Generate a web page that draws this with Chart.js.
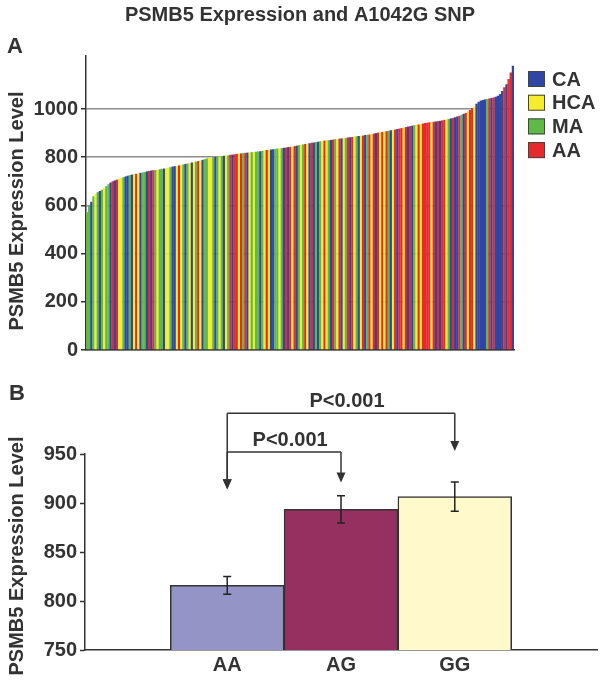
<!DOCTYPE html>
<html><head><meta charset="utf-8">
<script src="https://cdn.jsdelivr.net/npm/chart.js@4"></script>
<style>
html,body{margin:0;padding:0;background:#fff;}
#wrap{position:relative;width:601px;height:686px;overflow:hidden;}
#ca{position:absolute;left:0;top:0;}
#cb{position:absolute;left:0;top:365px;}
</style></head><body>
<div id="wrap"><canvas id="ca" width="601" height="365"></canvas><canvas id="cb" width="601" height="321"></canvas></div>
<script>
// ---------- text ----------
const titleText = 'PSMB5 Expression and A1042G SNP';
const yAxisTitle = 'PSMB5 Expression Level';
const panelLabels = ['A', 'B'];

// ---------- panel A data ----------
const groupKeys = ['C', 'H', 'M', 'A'];
const groupNames = ['CA', 'HCA', 'MA', 'AA'];
const groupColors = ['#2f47a3', '#f4ec2c', '#5fb947', '#e42a2c'];
const yTicksA = [0, 200, 400, 600, 800, 1000];

const sampleGroups = [
  'M','M','C','M','H','M','C','M','H','M',
  'M','C','A','C','A','H','H','M','C','C',
  'M','C','H','A','H','C','M','M','C','A',
  'C','A','M','H','M','M','C','H','H','M',
  'C','C','H','A','H','M','C','M','H','C',
  'H','M','A','H','C','M','M','H','H','M',
  'C','M','H','M','C','H','M','A','C','A',
  'A','H','A','M','A','C','H','M','H','M',
  'M','C','M','H','A','H','C','C','M','M',
  'H','M','C','A','C','A','H','A','C','M',
  'H','M','A','H','C','A','C','M','C','M',
  'H','A','H','M','C','A','M','H','A','C',
  'H','M','A','C','A','H','M','C','H','A',
  'C','M','A','H','A','C','A','H','A','H',
  'A','M','C','H','A','C','A','A','H','A',
  'C','A','C','M','H','A','H','A','A','A',
  'A','H','A','C','A','C','A','A','H','M',
  'C','A','C','C','A','M','C','A','H','A',
  'A','H','C','C','C','C','C','M','A','C',
  'A','C','C','C','C','A','C','A','A','C'
];
const expression = [
  572, 598, 615, 638, 648, 655, 660, 665, 672, 680,
  688, 695, 700, 704, 707, 711, 714, 717, 720, 723,
  726, 728, 729, 731, 733, 735, 737, 739, 741, 743,
  745, 746, 747, 748, 750, 752, 753, 755, 757, 759,
  761, 763, 764, 766, 768, 770, 772, 774, 776, 778,
  780, 782, 784, 787, 789, 792, 795, 797, 799, 800,
  801, 802, 803, 805, 806, 807, 808, 810, 811, 812,
  814, 815, 816, 817, 818, 819, 820, 821, 822, 823,
  824, 825, 827, 828, 830, 831, 832, 833, 835, 836,
  837, 838, 839, 840, 842, 843, 844, 846, 848, 850,
  852, 853, 855, 856, 858, 860, 861, 863, 864, 866,
  867, 869, 870, 871, 872, 873, 875, 876, 877, 878,
  879, 880, 882, 883, 884, 886, 887, 888, 889, 890,
  892, 893, 894, 896, 898, 900, 902, 903, 905, 907,
  908, 910, 912, 913, 915, 917, 919, 921, 923, 925,
  927, 929, 931, 933, 935, 936, 938, 940, 942, 943,
  945, 946, 947, 948, 950, 951, 953, 955, 957, 959,
  961, 963, 966, 969, 972, 976, 980, 984, 990, 996,
  1003, 1010, 1022, 1030, 1035, 1038, 1040, 1042, 1044, 1046,
  1048, 1051, 1055, 1062, 1075, 1090, 1103, 1125, 1152, 1180
];

// ---------- panel B data ----------
const genotypes = ['AA', 'AG', 'GG'];
const genotypeMeans = [816, 893.5, 906.5];
const genotypeSEM = [9, 14, 15];
const genotypeColors = ['#9494c6', '#963060', '#fff9cb'];
const yTicksB = [750, 800, 850, 900, 950];
const comparisons = [[0, 1], [0, 2]];
const comparisonLabels = ['P<0.001', 'P<0.001'];
const bracketLevels = [952, 991.5];
const arrowTips = [914, 921, 953];

// ---------- common style ----------
const FONT = "'Liberation Sans', Arial, Helvetica, sans-serif";
const TXT = '#333';
Chart.defaults.font.family = FONT;
Chart.defaults.color = TXT;

function boldFont(size) { return 'bold ' + size + 'px ' + FONT; }

// ---------- chart A ----------
const decoA = {
  id: 'decoA',
  afterDraw(chart) {
    const ctx = chart.ctx, ca = chart.chartArea;
    ctx.save();
    ctx.fillStyle = TXT;
    ctx.font = boldFont(20);
    ctx.textAlign = 'center';
    ctx.textBaseline = 'alphabetic';
    ctx.fillText(titleText, 300, 21);
    ctx.textAlign = 'left';
    ctx.font = boldFont(22);
    ctx.fillText(panelLabels[0], 7, 53);
    // y title
    ctx.save();
    ctx.translate(17, 211);
    ctx.rotate(-Math.PI / 2);
    ctx.font = boldFont(20);
    ctx.textAlign = 'center';
    ctx.textBaseline = 'middle';
    ctx.fillText(yAxisTitle, 0, 0);
    ctx.restore();
    // legend
    ctx.font = boldFont(20);
    ctx.textBaseline = 'middle';
    ctx.textAlign = 'left';
    groupNames.forEach((name, i) => {
      const bx = ca.right + 14, cy = ca.top + 23 + i * 23.7;
      ctx.fillStyle = groupColors[i];
      ctx.fillRect(bx, cy - 8, 17, 16);
      ctx.strokeStyle = '#444';
      ctx.lineWidth = 1;
      ctx.strokeRect(bx + 0.5, cy - 7.5, 16, 15);
      ctx.fillStyle = TXT;
      ctx.fillText(name, bx + 24, cy + 1);
    });
    ctx.restore();
  }
};

new Chart(document.getElementById('ca'), {
  type: 'bar',
  data: {
    labels: expression.map((_, i) => String(i + 1)),
    datasets: [{
      data: expression,
      backgroundColor: sampleGroups.map(k => groupColors[groupKeys.indexOf(k)]),
      borderWidth: 0,
      barPercentage: 1.1,
      categoryPercentage: 1
    }]
  },
  options: {
    responsive: false,
    animation: false,
    layout: { padding: { top: 56, right: 87, bottom: 13, left: 0 } },
    plugins: { legend: { display: false }, tooltip: { enabled: false }, title: { display: false } },
    scales: {
      x: {
        ticks: { display: false },
        grid: { display: false, drawTicks: false },
        border: { color: '#333', width: 1.5 }
      },
      y: {
        min: 0, max: 1220,
        afterBuildTicks: s => { s.ticks = yTicksA.map(v => ({ value: v })); },
        afterFit: s => { s.width = 86; },
        ticks: { callback: v => String(v), font: { size: 20, weight: 'bold' }, color: TXT, padding: 3 },
        grid: { color: '#8c8c8c', lineWidth: 1.5, tickLength: 5, tickColor: '#333', tickWidth: 1.5 },
        border: { color: '#333', width: 1.5 }
      }
    }
  },
  plugins: [decoA]
});

// ---------- chart B ----------
const decoB = {
  id: 'decoB',
  afterDraw(chart) {
    const ctx = chart.ctx;
    const xs = chart.scales.x, ys = chart.scales.y;
    ctx.save();
    ctx.fillStyle = TXT;
    ctx.font = boldFont(22);
    ctx.textAlign = 'left';
    ctx.textBaseline = 'alphabetic';
    ctx.fillText(panelLabels[1], 9, 35);
    // y title
    ctx.save();
    ctx.translate(17, 191);
    ctx.rotate(-Math.PI / 2);
    ctx.font = boldFont(20);
    ctx.textAlign = 'center';
    ctx.textBaseline = 'middle';
    ctx.fillText(yAxisTitle, 0, 0);
    ctx.restore();
    // error bars
    ctx.strokeStyle = '#222';
    ctx.lineWidth = 1.5;
    genotypes.forEach((g, i) => {
      const x = xs.getPixelForValue(i);
      const yHi = ys.getPixelForValue(genotypeMeans[i] + genotypeSEM[i]);
      const yLo = ys.getPixelForValue(genotypeMeans[i] - genotypeSEM[i]);
      ctx.beginPath();
      ctx.moveTo(x, yHi); ctx.lineTo(x, yLo);
      ctx.moveTo(x - 4, yHi); ctx.lineTo(x + 4, yHi);
      ctx.moveTo(x - 4, yLo); ctx.lineTo(x + 4, yLo);
      ctx.stroke();
    });
    // brackets
    ctx.strokeStyle = '#333';
    ctx.fillStyle = '#333';
    ctx.lineWidth = 1.5;
    const arrow = (x, tipV, fromY) => {
      const tip = ys.getPixelForValue(tipV);
      ctx.beginPath();
      ctx.moveTo(x, fromY); ctx.lineTo(x, tip - 9);
      ctx.stroke();
      ctx.beginPath();
      ctx.moveTo(x, tip); ctx.lineTo(x - 4.5, tip - 10); ctx.lineTo(x + 4.5, tip - 10);
      ctx.closePath(); ctx.fill();
    };
    comparisons.forEach((pair, k) => {
      const [a, b] = pair;
      const xa = xs.getPixelForValue(a), xb = xs.getPixelForValue(b);
      const yl = ys.getPixelForValue(bracketLevels[k]);
      ctx.beginPath();
      ctx.moveTo(xa, yl); ctx.lineTo(xb, yl);
      ctx.stroke();
      arrow(xa, arrowTips[a], yl);
      arrow(xb, arrowTips[b], yl);
      ctx.font = boldFont(20);
      ctx.textAlign = 'center';
      ctx.textBaseline = 'middle';
      ctx.fillText(comparisonLabels[k], (xa + xb) / 2 + 6, yl - 12);
    });
    ctx.restore();
  }
};

new Chart(document.getElementById('cb'), {
  type: 'bar',
  data: {
    datasets: [{
      data: genotypes.map((g, i) => ({ x: i, y: genotypeMeans[i] })),
      backgroundColor: genotypeColors,
      borderColor: '#333',
      borderWidth: 1.5,
      borderSkipped: 'bottom',
      barPercentage: 1,
      categoryPercentage: 1
    }]
  },
  options: {
    responsive: false,
    animation: false,
    layout: { padding: { top: 89, right: 4, bottom: 6, left: 0 } },
    plugins: { legend: { display: false }, tooltip: { enabled: false } },
    scales: {
      x: {
        type: 'linear', min: -1.25, max: 3.25, offset: false,
        afterBuildTicks: s => { s.ticks = genotypes.map((g, i) => ({ value: i })); },
        ticks: { callback: v => genotypes[v], font: { size: 20, weight: 'bold' }, color: TXT, padding: 3, autoSkip: false, maxRotation: 0 },
        grid: { display: false, drawTicks: false },
        border: { color: '#333', width: 1.5 }
      },
      y: {
        min: 750, max: 950,
        afterBuildTicks: s => { s.ticks = yTicksB.map(v => ({ value: v })); },
        afterFit: s => { s.width = 85; },
        ticks: { callback: v => String(v), font: { size: 20, weight: 'bold' }, color: TXT, padding: 3 },
        grid: { drawOnChartArea: false, tickLength: 5, tickColor: '#333', tickWidth: 1.5 },
        border: { color: '#333', width: 1.5 }
      }
    }
  },
  plugins: [decoB]
});
</script>
</body></html>
